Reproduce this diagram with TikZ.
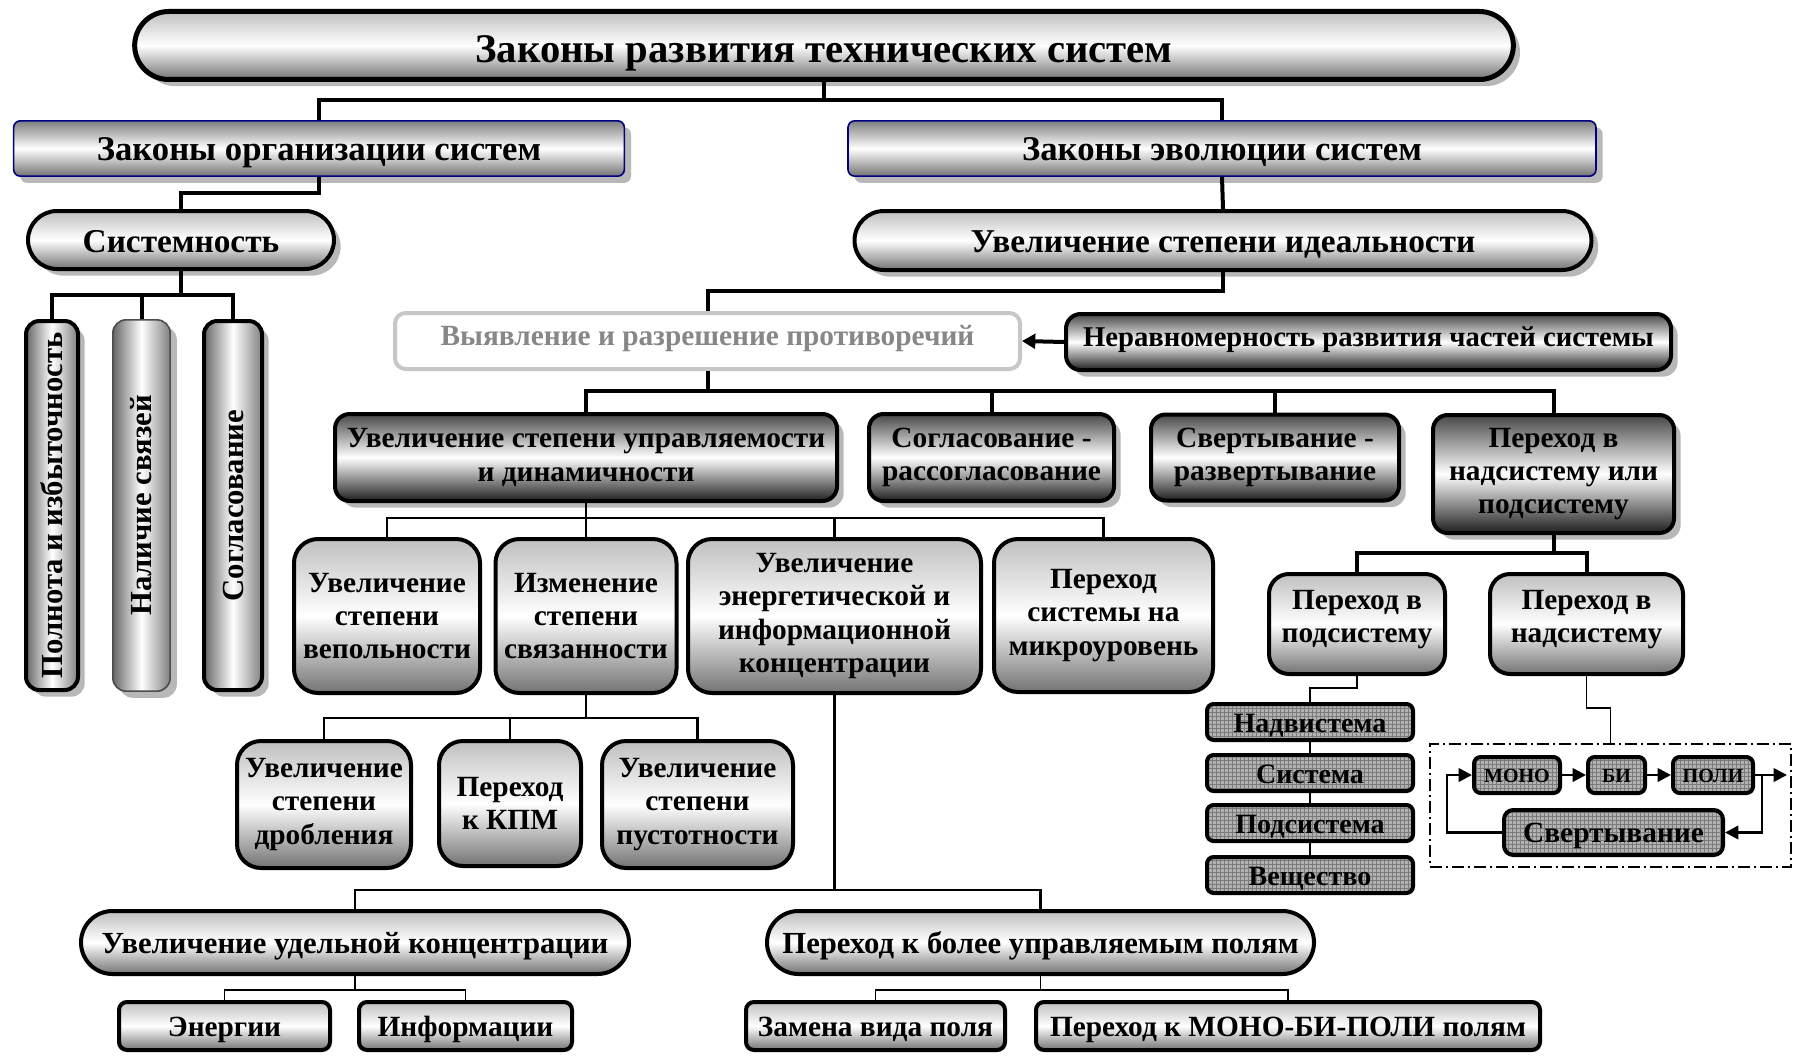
\documentclass[tikz,border=0pt]{standalone}
\usepackage{fontspec}
\setmainfont{Liberation Serif}
\usepackage{graphicx}
\usetikzlibrary{shapes.misc,shadows,patterns,arrows.meta}

\definecolor{lawblue}{RGB}{0,0,128}

\tikzset{
  boxbase/.style={draw=black, line width=3pt, inner sep=0pt, align=center, font=\bfseries\fontsize{22}{25}\selectfont},
  oneline/.style={text height=#1, text depth=0pt},
  lightfill/.style={top color=black!25, bottom color=black!55, middle color=white},
  darkfill/.style={top color=black!72, bottom color=black!88, middle color=white},
  shadowed/.style={drop shadow={shadow xshift=5pt, shadow yshift=-5pt, fill=black!28, opacity=1}},
  pill/.style={boxbase, rounded rectangle, lightfill},
  lawbox/.style={boxbase, oneline=18pt, draw=lawblue, line width=1.2pt, rounded corners=5pt, top color=black!50, bottom color=black!55, middle color=white, shadowed, font=\bfseries\fontsize{26}{30}\selectfont},
  darkbox/.style={boxbase, rounded corners=11pt, darkfill, shadowed},
  lightbox/.style={boxbase, rounded corners=18pt, lightfill},
  flatbox/.style={boxbase, oneline=15.5pt, rounded corners=6pt, lightfill},
  hatchbox/.style={boxbase, oneline=15pt, rounded corners=5pt, preaction={fill=black!30}, pattern=grid, pattern color=black!52},
  colbox/.style={boxbase, rounded corners=10pt, left color=black!60, right color=black!50, middle color=white, shadowed, font=\bfseries\fontsize{23}{26}\selectfont},
  trunk/.style={line width=3pt},
  branch/.style={line width=2pt},
  twig/.style={line width=1.2pt},
  flow/.style={line width=2pt, -{Triangle[length=10pt,width=10pt]}},
}

\begin{document}
\begin{tikzpicture}[x=0.75pt,y=0.75pt,yscale=-1,xscale=1]
\useasboundingbox (0,0) rectangle (1795,1056);

%Pill: title
\node (title) at (824,45.5) [pill, line width=3.75pt, shadowed, oneline=26pt, minimum width=1034pt, minimum height=51pt, font=\bfseries\fontsize{30.5}{34}\selectfont] {Законы развития технических систем};

%Law boxes
\node (org) at (319,148.5) [lawbox, minimum width=458pt, minimum height=41.5pt] {Законы организации систем};
\node (evo) at (1222,148.5) [lawbox, minimum width=561pt, minimum height=41.5pt] {Законы эволюции систем};

%Pills: second level
\node (sys) at (181,240) [pill, shadowed, oneline=18pt, minimum width=229.5pt, minimum height=43.5pt, font=\bfseries\fontsize{25}{28}\selectfont] {Системность};
\node (ideal) at (1223,240.5) [pill, shadowed, oneline=18pt, minimum width=552.75pt, minimum height=44.25pt, font=\bfseries\fontsize{25}{28}\selectfont] {Увеличение степени идеальности};

%Columns
\node (vert1) at (52,505.5) [colbox, minimum width=39pt, minimum height=276.75pt] {\rotatebox{90}{Полнота и избыточность}};
\node (vert2) at (141.5,505.5) [colbox, draw=black!70, line width=1.2pt, minimum width=43pt, minimum height=278.5pt] {\rotatebox{90}{Наличие связей}};
\node (vert3) at (233,505.5) [colbox, minimum width=43.5pt, minimum height=276.75pt] {\rotatebox{90}{Согласование}};

%Contradictions
\node (reveal) at (707.5,341) [boxbase, text height=12pt, text depth=5pt, draw=black!22, fill=white, rounded corners=8pt, text=black!47, minimum width=468.75pt, minimum height=42pt] {Выявление и разрешение противоречий};
\node (uneven) at (1368.5,342) [darkbox, text height=12pt, text depth=5pt, minimum width=453.75pt, minimum height=42pt, font=\bfseries\fontsize{21.5}{25}\selectfont] {Неравномерность развития частей системы};

%Third row
\node (ctrl) at (586,457.5) [darkbox, minimum width=376.5pt, minimum height=65.25pt] {Увеличение степени управляемости\\и динамичности};
\node (match) at (991.5,457.5) [darkbox, minimum width=183.75pt, minimum height=65.25pt] {Согласование -\\рассогласование};
\node (fold) at (1275,457.5) [darkbox, minimum width=186pt, minimum height=64.5pt] {Свертывание -\\развертывание};
\node (level) at (1553.5,474) [darkbox, minimum width=180.75pt, minimum height=88.5pt] {Переход в\\надсистему или\\подсистему};

%Fourth row
\node (veps) at (387,616) [lightbox, minimum width=139.5pt, minimum height=115.5pt] {Увеличение\\степени\\вепольности};
\node (link) at (586,616) [lightbox, minimum width=135.75pt, minimum height=115.5pt] {Изменение\\степени\\связанности};
\node (conc) at (834.5,616) [lightbox, minimum width=219.75pt, minimum height=115.5pt] {Увеличение\\энергетической и\\информационной\\концентрации};
\node (micro) at (1103.5,615.5) [lightbox, minimum width=164.25pt, minimum height=114.75pt] {Переход\\системы на\\микроуровень};

%Fifth row
\node (frag) at (324,804.5) [lightbox, minimum width=130.5pt, minimum height=95.25pt] {Увеличение\\степени\\дробления};
\node (kpm) at (510,803.5) [lightbox, minimum width=106.5pt, minimum height=93.75pt] {Переход\\к КПМ};
\node (void) at (697.5,804.5) [lightbox, minimum width=143.25pt, minimum height=95.25pt] {Увеличение\\степени\\пустотности};

%Concentration and fields
\node (spec) at (355,942.5) [pill, oneline=16pt, minimum width=411pt, minimum height=47.25pt, font=\bfseries\fontsize{23}{26}\selectfont] {Увеличение удельной концентрации};
\node (field) at (1040.5,942.5) [pill, oneline=16pt, minimum width=410.25pt, minimum height=47.25pt, font=\bfseries\fontsize{23}{26}\selectfont] {Переход к более управляемым полям};
\node (energy) at (224.5,1026) [flatbox, minimum width=158.25pt, minimum height=36pt] {Энергии};
\node (info) at (465.5,1026) [flatbox, minimum width=159.75pt, minimum height=36pt] {Информации};
\node (swap) at (875.5,1026) [flatbox, minimum width=194.25pt, minimum height=36pt] {Замена вида поля};
\node (mbp) at (1288,1026) [flatbox, minimum width=378pt, minimum height=36pt] {Переход к МОНО-БИ-ПОЛИ полям};

%Sub and super systems
\node (sub) at (1357,624) [lightbox, rounded corners=15pt, minimum width=132pt, minimum height=75pt] {Переход в\\подсистему\\[-14pt]\mbox{}};
\node (super) at (1586.5,624) [lightbox, rounded corners=15pt, minimum width=144.75pt, minimum height=75pt] {Переход в\\надсистему\\[-14pt]\mbox{}};

%Hierarchy stack
\node (nad) at (1310,722) [hatchbox, minimum width=154.5pt, minimum height=27pt, font=\bfseries\fontsize{21}{24}\selectfont] {Надвистема};
\node (sist) at (1310,773) [hatchbox, minimum width=154.5pt, minimum height=27pt, font=\bfseries\fontsize{21}{24}\selectfont] {Система};
\node (pod) at (1310,823) [hatchbox, minimum width=154.5pt, minimum height=27pt, font=\bfseries\fontsize{21}{24}\selectfont] {Подсистема};
\node (vesh) at (1310,875) [hatchbox, minimum width=154.5pt, minimum height=27pt, font=\bfseries\fontsize{21}{24}\selectfont] {Вещество};

%Dash-dot frame
\node (frame) at (1610.5,805.5) [draw, line width=1.1pt, dash pattern=on 9pt off 3pt on 1.5pt off 3pt, minimum width=270.75pt, minimum height=92.25pt] {};
\node (mono) at (1517,775) [hatchbox, oneline=10.5pt, minimum width=64.5pt, minimum height=27pt, font=\bfseries\fontsize{15}{18}\selectfont] {МОНО};
\node (bi) at (1616.5,775) [hatchbox, oneline=10.5pt, minimum width=42.75pt, minimum height=27pt, font=\bfseries\fontsize{15}{18}\selectfont] {БИ};
\node (poly) at (1713,775) [hatchbox, oneline=10.5pt, minimum width=60pt, minimum height=27pt, font=\bfseries\fontsize{15}{18}\selectfont] {ПОЛИ};
\node (roll) at (1613.5,832.5) [hatchbox, oneline=15.5pt, rounded corners=7pt, minimum width=164.25pt, minimum height=33.75pt] {Свертывание};
\coordinate (split) at (1762,775);
\coordinate (exit) at (1787,775);

%Connectors
\draw[trunk] (title.south) -- ++(0,18) -| (org.north);
\draw[trunk] (title.south) -- ++(0,18) -| (evo.north);
\draw[trunk] (org.south) -- ++(0,16) -| (sys.north);
\draw[trunk] (evo.south) -- (ideal.north);
\draw[trunk] (ideal.south) -- ++(0,19) -| (reveal.north);
\foreach \k in {vert1,vert2,vert3} \draw[trunk] (sys.south) -- ++(0,24) -| (\k.north);
\foreach \k in {ctrl,match,fold,level} \draw[trunk] (reveal.south) -- ++(0,20) -| (\k.north);
\draw[trunk, -{Triangle[length=10pt,width=11pt]}] (uneven.west) -- (reveal.east);
\foreach \k in {veps,link,conc,micro} \draw[branch] (ctrl.south) -- ++(0,15) -| (\k.north);
\foreach \k in {frag,kpm,void} \draw[branch] (link.south) -- ++(0,23) -| (\k.north);
\foreach \k in {spec,field} \draw[branch] (conc.south) -- ++(0,195) -| (\k.north);
\foreach \k in {energy,info} \draw[twig] (spec.south) -- ++(0,14) -| (\k.north);
\foreach \k in {swap,mbp} \draw[twig] (field.south) -- ++(0,14) -| (\k.north);
\foreach \k in {sub,super} \draw[trunk] (level.south) -- ++(0,18) -| (\k.north);
\draw[twig] (sub.south) -- ++(0,12) -| (nad.north);
\draw[twig] (nad.south) -- (sist.north);
\draw[twig] (sist.south) -- (pod.north);
\draw[twig] (pod.south) -- (vesh.north);
\draw[twig] (super.south) -- ++(0,32) -| (frame.north);

%Flow arrows
\draw[flow] (mono.east) -- (bi.west);
\draw[flow] (bi.east) -- (poly.west);
\draw[flow] (poly.east) -- (exit);
\draw[flow] (split) |- (roll.east);
\draw[flow] (roll.west) -- ++(-55,0) |- (mono.west);

\end{tikzpicture}
\end{document}
